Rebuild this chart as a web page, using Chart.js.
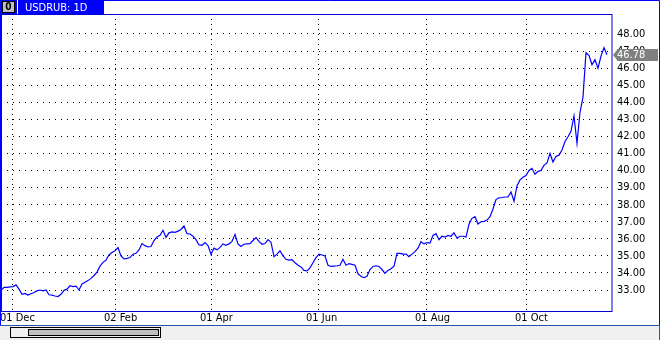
<!DOCTYPE html>
<html><head><meta charset="utf-8">
<script src="https://cdn.jsdelivr.net/npm/chart.js@4/dist/chart.umd.min.js"></script>
<style>html,body{margin:0;padding:0;background:#fff;overflow:hidden}canvas{display:block}</style>
</head><body>
<canvas id="c" width="660" height="340"></canvas>
<script>
const symbolTitle = "USDRUB: 1D";
const prices = [
  32.96,33.15,33.15,33.18,33.2,33.3,33.05,32.75,32.8,32.7,
  32.78,32.85,32.95,33.0,32.95,33.0,32.72,32.7,32.65,32.62,
  32.75,32.98,33.05,33.25,33.2,33.22,33.0,33.35,33.45,33.55,
  33.68,33.85,34.05,34.4,34.62,34.75,35.05,35.2,35.3,35.48,
  35.0,34.82,34.85,34.9,35.1,35.15,35.35,35.72,35.6,35.52,
  35.55,35.9,36.1,36.2,36.5,36.08,36.35,36.4,36.38,36.45,
  36.55,36.75,36.3,36.28,36.15,35.95,35.64,35.62,35.78,35.6,
  35.1,35.45,35.35,35.5,35.7,35.62,35.7,35.85,36.26,35.7,
  35.55,35.68,35.7,35.72,35.9,36.07,35.85,35.68,35.72,35.95,
  35.8,34.95,35.1,35.3,35.0,34.8,34.75,34.78,34.6,34.45,
  34.35,34.15,34.12,34.3,34.6,34.9,35.1,35.05,35.0,34.45,
  34.38,34.4,34.42,34.45,34.8,34.45,34.55,34.5,34.45,33.95,
  33.8,33.72,33.8,34.2,34.38,34.42,34.38,34.2,33.98,34.15,
  34.25,34.4,35.15,35.15,35.1,35.1,34.95,35.1,35.25,35.45,
  35.83,35.7,35.78,35.75,36.2,36.3,35.95,36.15,36.1,36.2,
  36.15,36.35,36.05,36.15,36.15,36.1,36.85,37.2,37.3,36.87,
  37.0,37.02,37.1,37.3,37.75,38.3,38.4,38.42,38.45,38.45,
  38.75,38.2,39.1,39.45,39.6,39.7,40.0,40.13,39.78,39.95,
  40.0,40.3,40.45,41.0,40.5,40.82,40.9,41.2,41.7,41.98,
  42.3,43.2,41.6,43.4,44.3,46.9,46.75,46.2,46.5,46.0,
  46.7,47.2,46.78
];
const dateTickIndex = [3.67, 38.33, 70.33, 105.67, 142, 175.33];
const dateTickLabels = ["01 Dec", "02 Feb", "01 Apr", "01 Jun", "01 Aug", "01 Oct"];
const priceTicks = [33,34,35,36,37,38,39,40,41,42,43,44,45,46,47,48];
const lastPrice = 46.78;

const FONT = "'DejaVu Sans Condensed', 'DejaVu Sans', sans-serif";
Chart.defaults.font.family = FONT;
Chart.defaults.font.size = 11;
Chart.defaults.color = '#000';

const deco = {
  id: 'deco',
  afterDraw(chart) {
    const ctx = chart.ctx;
    const ca = chart.chartArea;
    const ys = chart.scales.y;
    ctx.save();
    // plot frame
    ctx.strokeStyle = '#0000d0';
    ctx.lineWidth = 1;
    ctx.strokeRect(0.5, ca.top + 0.5, ca.right - 0.5, ca.bottom - ca.top);
    // window border
    ctx.strokeStyle = '#0000ff';
    ctx.beginPath();
    ctx.moveTo(0, 0.5); ctx.lineTo(659.5, 0.5); ctx.lineTo(659.5, 325);
    ctx.moveTo(0.5, 0); ctx.lineTo(0.5, 325);
    ctx.stroke();
    ctx.fillStyle = '#0000ff';
    ctx.fillRect(0, ca.top, 2, 311 - ca.top);
    // scroll area
    ctx.fillStyle = '#f0f0f0';
    ctx.fillRect(0, 326, 660, 14);
    ctx.strokeStyle = '#1f5aa8';
    ctx.beginPath(); ctx.moveTo(0, 325.5); ctx.lineTo(660, 325.5);
    ctx.moveTo(659.5, 325); ctx.lineTo(659.5, 340); ctx.stroke();
    ctx.strokeStyle = '#000';
    ctx.fillStyle = '#f0f0f0';
    ctx.fillRect(10.5, 327.5, 150, 10); ctx.strokeRect(10.5, 327.5, 150, 10);
    ctx.fillStyle = '#c0c0c0';
    ctx.fillRect(28.5, 329.5, 130, 6); ctx.strokeRect(28.5, 329.5, 130, 6);
    // title tab
    ctx.fillStyle = '#0000ff';
    ctx.fillRect(0, 0, 104, 14);
    ctx.fillStyle = '#c0c0c0';
    ctx.fillRect(2, 1, 13, 12);
    ctx.strokeStyle = '#000';
    ctx.strokeRect(2.5, 1.5, 12, 11);
    ctx.fillStyle = '#000';
    ctx.font = 'bold 10px ' + FONT;
    ctx.textAlign = 'center'; ctx.textBaseline = 'middle';
    ctx.fillText('0', 8.5, 7.5);
    ctx.fillStyle = '#fff';
    ctx.fillRect(17, 0, 1, 14);
    ctx.font = '11px ' + FONT;
    ctx.textAlign = 'left'; ctx.textBaseline = 'alphabetic';
    ctx.fillText(symbolTitle, 25, 11);
    // last price marker
    const py = Math.round(ys.getPixelForValue(lastPrice));
    ctx.fillStyle = '#808080';
    ctx.beginPath();
    ctx.moveTo(613, py); ctx.lineTo(617, py - 5); ctx.lineTo(617, py - 6);
    ctx.lineTo(658, py - 6); ctx.lineTo(658, py + 6); ctx.lineTo(617, py + 6); ctx.lineTo(617, py + 5);
    ctx.closePath(); ctx.fill();
    ctx.fillStyle = '#fff';
    ctx.textBaseline = 'middle';
    ctx.fillText(lastPrice.toFixed(2), 617, py + 0.5);
    ctx.restore();
  }
};

new Chart(document.getElementById('c'), {
  type: 'line',
  data: {
    datasets: [{
      data: prices.map((v, i) => ({x: i, y: v})),
      borderColor: '#0000ff',
      borderWidth: 1.2,
      pointRadius: 0,
      tension: 0,
      fill: false
    }]
  },
  options: {
    responsive: false,
    animation: false,
    devicePixelRatio: 1,
    layout: {padding: {left: 1, top: 14, right: 0, bottom: 0}},
    plugins: {legend: {display: false}, tooltip: {enabled: false}},
    scales: {
      x: {
        type: 'linear',
        min: 0,
        max: 203.67,
        afterBuildTicks: s => { s.ticks = dateTickIndex.map(v => ({value: v})); },
        afterFit: s => { s.height = 29; },
        ticks: {
          autoSkip: false, maxRotation: 0, minRotation: 0,
          align: 'start', labelOffset: -12, padding: 1,
          callback: (v, i) => dateTickLabels[i],
          font: {size: 11}
        },
        grid: {color: '#000', lineWidth: 1, drawTicks: false},
        border: {display: false, dash: [1, 4]}
      },
      y: {
        type: 'linear',
        position: 'right',
        min: 31.77,
        max: 49.17,
        afterBuildTicks: s => { s.ticks = priceTicks.map(v => ({value: v})); },
        afterFit: s => { s.width = 48; },
        ticks: {padding: 5, callback: v => Number(v).toFixed(2), font: {size: 11}},
        grid: {color: '#000', lineWidth: 1, drawTicks: false},
        border: {display: false, dash: [1, 5]}
      }
    }
  },
  plugins: [deco]
});
</script>
</body></html>
